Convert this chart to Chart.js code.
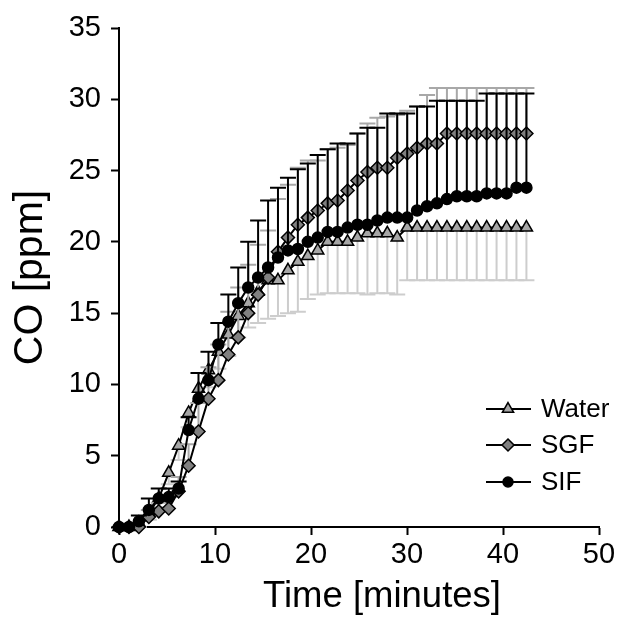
<!DOCTYPE html>
<html><head><meta charset="utf-8">
<script src="https://cdn.jsdelivr.net/npm/chart.js@4.4.1/dist/chart.umd.min.js"></script>
<style>html,body{margin:0;padding:0;background:#fff}#wrap{width:642px;height:619px}</style>
</head><body><div id="wrap"><canvas id="c" width="642" height="619"></canvas></div>
<script>
// Time points (minutes)
const times = [0, 1.04, 2.07, 3.11, 4.14, 5.18, 6.21, 7.25, 8.28, 9.32, 10.35, 11.39, 12.42, 13.46, 14.49, 15.53, 16.56, 17.60, 18.63, 19.67, 20.70, 21.74, 22.77, 23.81, 24.84, 25.88, 26.91, 27.95, 28.98, 30.02, 31.05, 32.09, 33.12, 34.16, 35.19, 36.23, 37.26, 38.30, 39.33, 40.37, 41.40, 42.44];

// CO [ppm] means
const water = [0, 0, 0.3, 1.0, 2.0, 3.8, 5.7, 8.0, 9.7, 11.0, 12.3, 13.5, 14.8, 15.7, 16.5, 17.3, 17.3, 18.0, 18.6, 19.0, 19.4, 20.0, 20.0, 20.0, 20.3, 20.6, 20.6, 20.6, 20.3, 21.0, 21.0, 21.0, 21.0, 21.0, 21.0, 21.0, 21.0, 21.0, 21.0, 21.0, 21.0, 21.0];
const sgf = [0, 0, 0, 0.7, 1.1, 1.3, 2.5, 4.3, 6.7, 9.0, 10.3, 12.1, 13.3, 15.0, 16.3, 17.5, 19.3, 20.3, 21.2, 21.7, 22.2, 22.7, 22.9, 23.6, 24.3, 24.9, 25.2, 25.2, 25.9, 26.2, 26.6, 26.9, 26.9, 27.6, 27.6, 27.6, 27.6, 27.6, 27.6, 27.6, 27.6, 27.6];
const sif = [0, 0, 0.4, 1.2, 2.0, 2.1, 2.7, 6.8, 9.0, 10.3, 12.8, 14.4, 15.7, 16.8, 17.5, 18.2, 18.9, 19.4, 19.5, 20.0, 20.3, 20.7, 20.7, 21.0, 21.2, 21.2, 21.5, 21.7, 21.7, 21.7, 22.2, 22.5, 22.7, 23.0, 23.2, 23.2, 23.2, 23.4, 23.4, 23.4, 23.8, 23.8];

// Standard deviations (Water drawn downward, SGF and SIF upward)
const waterSD = [0, 0, 0.3, 0.5, 0.6, 0.8, 1.0, 1.0, 1.0, 1.2, 1.2, 1.5, 1.5, 1.7, 2.2, 2.7, 2.5, 3.0, 3.5, 3.0, 3.1, 3.6, 3.6, 3.6, 3.9, 4.3, 4.2, 4.2, 4.0, 3.7, 3.7, 3.7, 3.7, 3.7, 3.7, 3.7, 3.7, 3.7, 3.7, 3.7, 3.7, 3.7];
const sgfSD = [0, 0, 0, 0.5, 0.6, 0.8, 1.0, 1.5, 2.0, 2.2, 2.5, 3.0, 3.5, 3.4, 3.5, 3.3, 3.7, 3.7, 4.0, 4.0, 3.5, 3.8, 3.7, 3.2, 3.3, 3.4, 3.5, 3.6, 3.0, 3.0, 2.9, 3.4, 3.9, 3.2, 3.2, 3.2, 3.2, 3.2, 3.2, 3.2, 3.2, 3.2];
const sifSD = [0, 0, 0.4, 0.8, 0.7, 0.6, 0.5, 0.9, 1.8, 2.0, 1.5, 1.9, 2.5, 3.2, 4.0, 4.7, 4.9, 5.1, 5.6, 5.5, 5.8, 5.8, 6.2, 5.9, 6.4, 6.8, 6.5, 7.3, 7.3, 7.3, 7.3, 7.0, 7.2, 6.9, 6.7, 6.7, 6.7, 7.0, 7.0, 7.0, 6.6, 6.6];

const seriesNames = ['Water', 'SGF', 'SIF'];
const xTicks = [0, 10, 20, 30, 40, 50];
const yTicks = [0, 5, 10, 15, 20, 25, 30, 35];
const xTitle = 'Time [minutes]';
const yTitle = 'CO [ppm]';

const FONT = "'Liberation Sans', Arial, Helvetica, sans-serif";
Chart.defaults.font.family = FONT;
Chart.defaults.color = '#000';

const pts = arr => arr.map((v, i) => ({x: times[i], y: v}));

const errPlugin = {
  id: 'errbars',
  beforeDatasetDraw(chart, args) {
    const ds = chart.data.datasets[args.index];
    if (!ds.errors) return;
    const xs = chart.scales.x, ys = chart.scales.y, ctx = chart.ctx;
    ctx.save();
    ctx.strokeStyle = ds.errorColor;
    ctx.lineWidth = 2;
    ds.data.forEach((p, i) => {
      const sd = ds.errors[i];
      if (!sd) return;
      const px = xs.getPixelForValue(p.x);
      const py = ys.getPixelForValue(p.y);
      const pe = ys.getPixelForValue(p.y + ds.errorDir * sd);
      ctx.beginPath();
      ctx.moveTo(px, py); ctx.lineTo(px, pe);
      ctx.moveTo(px - 8, pe); ctx.lineTo(px + 8, pe);
      ctx.stroke();
    });
    ctx.restore();
  }
};

function drawMarker(ctx, style, x, y, r, fill) {
  ctx.beginPath();
  if (style === 'triangle') {
    ctx.moveTo(x, y - r);
    ctx.lineTo(x + r * 0.866, y + r * 0.5);
    ctx.lineTo(x - r * 0.866, y + r * 0.5);
    ctx.closePath();
  } else if (style === 'rectRot') {
    ctx.moveTo(x, y - r); ctx.lineTo(x + r, y); ctx.lineTo(x, y + r); ctx.lineTo(x - r, y); ctx.closePath();
  } else {
    ctx.arc(x, y, r, 0, Math.PI * 2);
  }
  ctx.fillStyle = fill; ctx.fill();
  ctx.lineWidth = 1.5; ctx.strokeStyle = '#000'; ctx.stroke();
}

const legendPlugin = {
  id: 'customLegend',
  afterDraw(chart) {
    const ctx = chart.ctx;
    const ca = chart.chartArea;
    const x0 = ca.right - 113, rows = [ca.bottom - 118, ca.bottom - 82, ca.bottom - 45];
    ctx.save();
    seriesNames.forEach((name, k) => {
      const ds = chart.data.datasets.find(d => d.label === name);
      const y = rows[k];
      ctx.beginPath(); ctx.moveTo(x0, y); ctx.lineTo(x0 + 45, y);
      ctx.lineWidth = 2; ctx.strokeStyle = '#000'; ctx.stroke();
      drawMarker(ctx, ds.pointStyle, x0 + 22, y, ds.legendRadius, ds.pointBackgroundColor);
      ctx.fillStyle = '#000';
      ctx.font = '26px ' + FONT;
      ctx.textBaseline = 'middle';
      ctx.textAlign = 'left';
      ctx.fillText(name, x0 + 55, y + 1);
    });
    // x-axis title (offset to the right of the axis centre, as in the original)
    ctx.font = '36.5px ' + FONT;
    ctx.textAlign = 'center';
    ctx.textBaseline = 'alphabetic';
    ctx.fillText(xTitle, (ca.left + ca.right) / 2 + 23, ca.bottom + 80);
    ctx.restore();
  }
};

const common = {borderColor: '#000', borderWidth: 2, tension: 0, pointBorderColor: '#000', pointBorderWidth: 1.5, clip: false};

new Chart(document.getElementById('c'), {
  type: 'line',
  data: {
    datasets: [
      Object.assign({label: seriesNames[2], data: pts(sif), order: 0, pointStyle: 'circle', pointRadius: 5.5, legendRadius: 5,
        pointBackgroundColor: '#000', backgroundColor: '#000', errors: sifSD, errorDir: 1, errorColor: '#000'}, common),
      Object.assign({label: seriesNames[1], data: pts(sgf), order: 1, pointStyle: 'rectRot', pointRadius: 6.5, legendRadius: 6,
        pointBackgroundColor: '#808080', backgroundColor: '#808080', errors: sgfSD, errorDir: 1, errorColor: '#a8a8a8'}, common),
      Object.assign({label: seriesNames[0], data: pts(water), order: 2, pointStyle: 'triangle', pointRadius: 7, legendRadius: 6.5,
        pointBackgroundColor: '#a6a6a6', backgroundColor: '#a6a6a6', errors: waterSD, errorDir: -1, errorColor: '#cdcdcd'}, common)
    ]
  },
  options: {
    responsive: false,
    animation: false,
    devicePixelRatio: 1,
    layout: {padding: {top: 28, right: 43, left: 0, bottom: 0}},
    plugins: {legend: {display: false}, tooltip: {enabled: false}},
    scales: {
      x: {
        type: 'linear', min: 0, max: 50,
        afterBuildTicks: s => { s.ticks = xTicks.map(v => ({value: v})); },
        afterFit: s => { s.height = 92; },
        ticks: {font: {size: 29}, color: '#000', padding: 3, maxRotation: 0},
        grid: {display: true, drawOnChartArea: false, drawTicks: true, tickLength: 8, tickColor: '#000', tickWidth: 2},
        border: {display: true, color: '#000', width: 2},
        title: {display: false}
      },
      y: {
        type: 'linear', min: 0, max: 35,
        afterBuildTicks: s => { s.ticks = yTicks.map(v => ({value: v})); },
        afterFit: s => { s.width = 119; },
        ticks: {font: {size: 29}, color: '#000', padding: 10},
        grid: {display: true, drawOnChartArea: false, drawTicks: true, tickLength: 8, tickColor: '#000', tickWidth: 2},
        border: {display: true, color: '#000', width: 2},
        title: {display: true, text: yTitle, font: {size: 41}, color: '#000', padding: {top: 6, bottom: 0}}
      }
    }
  },
  plugins: [errPlugin, legendPlugin]
});
</script>
</body></html>
